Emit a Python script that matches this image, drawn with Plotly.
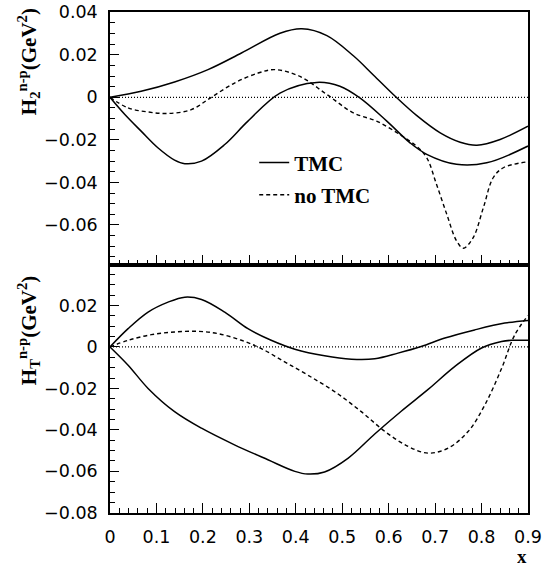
import plotly.graph_objects as go

# ---------------- data ----------------
# Upper panel: H2^{n-p}
H2_TMC_A_X = [0, 0.067, 0.139, 0.211, 0.283, 0.366, 0.413, 0.467, 0.524, 0.567, 0.614, 0.660, 0.711, 0.754, 0.790, 0.840, 0.9]
H2_TMC_A_Y = [0, 0.0028, 0.0072, 0.0130, 0.0208, 0.0301, 0.0322, 0.0290, 0.0195, 0.0105, 0.0005, -0.0085, -0.0167, -0.0211, -0.0225, -0.0198, -0.0136]

H2_TMC_B_X = [0, 0.032, 0.067, 0.103, 0.139, 0.161, 0.197, 0.247, 0.297, 0.366, 0.445, 0.495, 0.538, 0.596, 0.646, 0.682, 0.746, 0.811, 0.9]
H2_TMC_B_Y = [0, -0.0081, -0.0159, -0.0237, -0.0295, -0.0312, -0.0300, -0.0222, -0.0112, 0.0020, 0.0070, 0.0052, -0.0003, -0.0112, -0.0214, -0.0268, -0.0315, -0.0308, -0.0229]

H2_NOTMC_X = [0, 0.039, 0.082, 0.125, 0.175, 0.218, 0.268, 0.319, 0.355, 0.409, 0.467, 0.524, 0.574, 0.624, 0.660, 0.682, 0.703, 0.725, 0.746, 0.761, 0.782, 0.804, 0.825, 0.847, 0.9]
H2_NOTMC_Y = [0, -0.0050, -0.0069, -0.0076, -0.0058, 0.0000, 0.0067, 0.0114, 0.0130, 0.0098, 0.0013, -0.0073, -0.0112, -0.0175, -0.0230, -0.0284, -0.0409, -0.0549, -0.0674, -0.0709, -0.0659, -0.0518, -0.0378, -0.0331, -0.0303]

# Lower panel: HT^{n-p}
HT_TMC_A_X = [0, 0.039, 0.082, 0.125, 0.161, 0.197, 0.247, 0.297, 0.347, 0.398, 0.462, 0.520, 0.570, 0.620, 0.670, 0.721, 0.785, 0.850, 0.9]
HT_TMC_A_Y = [0, 0.0088, 0.0168, 0.0216, 0.0240, 0.0229, 0.0168, 0.0088, 0.0032, -0.0011, -0.0043, -0.0059, -0.0057, -0.0030, 0.0002, 0.0043, 0.0082, 0.0115, 0.0128]

HT_TMC_B_X = [0, 0.039, 0.082, 0.139, 0.197, 0.268, 0.340, 0.398, 0.426, 0.462, 0.513, 0.570, 0.627, 0.685, 0.742, 0.800, 0.843, 0.864, 0.9]
HT_TMC_B_Y = [0, -0.0088, -0.0200, -0.0312, -0.0392, -0.0472, -0.0544, -0.0600, -0.0613, -0.0603, -0.0536, -0.0420, -0.0310, -0.0205, -0.0095, -0.0005, 0.0026, 0.0032, 0.0032]

HT_NOTMC_X = [0, 0.039, 0.089, 0.139, 0.190, 0.233, 0.283, 0.326, 0.376, 0.426, 0.484, 0.541, 0.592, 0.642, 0.685, 0.728, 0.771, 0.807, 0.843, 0.871, 0.9]
HT_NOTMC_Y = [0, 0.0032, 0.0059, 0.0072, 0.0075, 0.0064, 0.0032, -0.0008, -0.0072, -0.0136, -0.0216, -0.0312, -0.0408, -0.0480, -0.0512, -0.0488, -0.0408, -0.0280, -0.0104, 0.0056, 0.0152]

ZERO_X = [0, 0.9]
ZERO_Y = [0, 0]

X_TICKS = [0, 0.1, 0.2, 0.3, 0.4, 0.5, 0.6, 0.7, 0.8, 0.9]
LEGEND_NAMES = ["TMC", "no TMC"]

# ---------------- styling ----------------
SOLID = dict(color="black", width=1.5)
DASHED = dict(color="black", width=1.4, dash="4px,3px")
DOTTED = dict(color="black", width=1.2, dash="1px,2px")
TICK_FONT = dict(family="DejaVu Sans", size=17.5, color="black")
SERIF_B = dict(family="Liberation Serif", size=21, color="black")

fig = go.Figure()

def add_panel(xa, ya, a, b, d, legend):
    fig.add_trace(go.Scatter(x=ZERO_X, y=ZERO_Y, mode="lines", line=DOTTED,
                             xaxis=xa, yaxis=ya, showlegend=False, hoverinfo="skip"))
    fig.add_trace(go.Scatter(x=a[0], y=a[1], mode="lines", line=SOLID, line_shape="spline",
                             xaxis=xa, yaxis=ya, name="<b>%s</b>" % LEGEND_NAMES[0],
                             legendgroup="tmc", showlegend=legend))
    fig.add_trace(go.Scatter(x=b[0], y=b[1], mode="lines", line=SOLID, line_shape="spline",
                             xaxis=xa, yaxis=ya, name="<b>%s</b>" % LEGEND_NAMES[0],
                             legendgroup="tmc", showlegend=False))
    fig.add_trace(go.Scatter(x=d[0], y=d[1], mode="lines", line=DASHED, line_shape="spline",
                             xaxis=xa, yaxis=ya, name="<b>%s</b>" % LEGEND_NAMES[1],
                             legendgroup="notmc", showlegend=legend))

add_panel("x", "y", (H2_TMC_A_X, H2_TMC_A_Y), (H2_TMC_B_X, H2_TMC_B_Y), (H2_NOTMC_X, H2_NOTMC_Y), True)
add_panel("x2", "y2", (HT_TMC_A_X, HT_TMC_A_Y), (HT_TMC_B_X, HT_TMC_B_Y), (HT_NOTMC_X, HT_NOTMC_Y), False)

xcommon = dict(range=[0, 0.9], showgrid=False, zeroline=False, showline=True, linecolor="black",
               linewidth=1.5, mirror=True, ticks="inside", ticklen=10, tickwidth=1, tickcolor="black",
               tickvals=X_TICKS, tickfont=TICK_FONT, automargin=False,
               minor=dict(ticks="inside", ticklen=5, tickwidth=1, tickcolor="black", dtick=0.02, tick0=0))
ycommon = dict(showgrid=False, zeroline=False, showline=True, linecolor="black", linewidth=1.5,
               mirror=True, ticks="inside", ticklen=9, tickwidth=1, tickcolor="black",
               dtick=0.02, tick0=0, tickfont=TICK_FONT, ticklabelstandoff=7, automargin=False,
               minor=dict(ticks="inside", ticklen=5, tickwidth=1, tickcolor="black", dtick=0.005, tick0=0))

SPLIT = 0.495
fig.update_layout(
    template="none",
    width=544, height=568,
    margin=dict(l=110, r=16, t=12, b=55, autoexpand=False),
    paper_bgcolor="white", plot_bgcolor="white",
    xaxis=dict(**xcommon, anchor="y", domain=[0, 1], showticklabels=False),
    yaxis=dict(**ycommon, anchor="x", domain=[SPLIT, 1], range=[-0.0788, 0.04008]),
    xaxis2=dict(**xcommon, anchor="y2", domain=[0, 1], ticklabelstandoff=7),
    yaxis2=dict(**ycommon, anchor="x2", domain=[0, SPLIT], range=[-0.08008, 0.0395]),
    legend=dict(x=0.345, y=0.74, xanchor="left", yanchor="top", bgcolor="rgba(0,0,0,0)",
                font=dict(family="Liberation Serif", size=21, color="black"),
                tracegroupgap=2, itemwidth=30),
    showlegend=True,
)

fig.add_annotation(text="<b>H<sub>2</sub><sup>n-p</sup>(GeV<sup>2</sup>)</b>", textangle=-90,
                   xref="paper", yref="paper", x=-0.196, y=0.9, showarrow=False,
                   font=SERIF_B, xanchor="center", yanchor="middle")
fig.add_annotation(text="<b>H<sub>T</sub><sup>n-p</sup>(GeV<sup>2</sup>)</b>", textangle=-90,
                   xref="paper", yref="paper", x=-0.196, y=0.365, showarrow=False,
                   font=SERIF_B, xanchor="center", yanchor="middle")
fig.add_annotation(text="<b>x</b>", xref="paper", yref="paper", x=0.986, y=-0.106,
                   showarrow=False, font=dict(family="Liberation Serif", size=19, color="black"),
                   xanchor="center", yanchor="bottom", height=17, borderpad=0)

fig.write_html("out.html", config={"displayModeBar": False},
               post_script="document.body.style.margin='0';document.body.style.padding='0';")
